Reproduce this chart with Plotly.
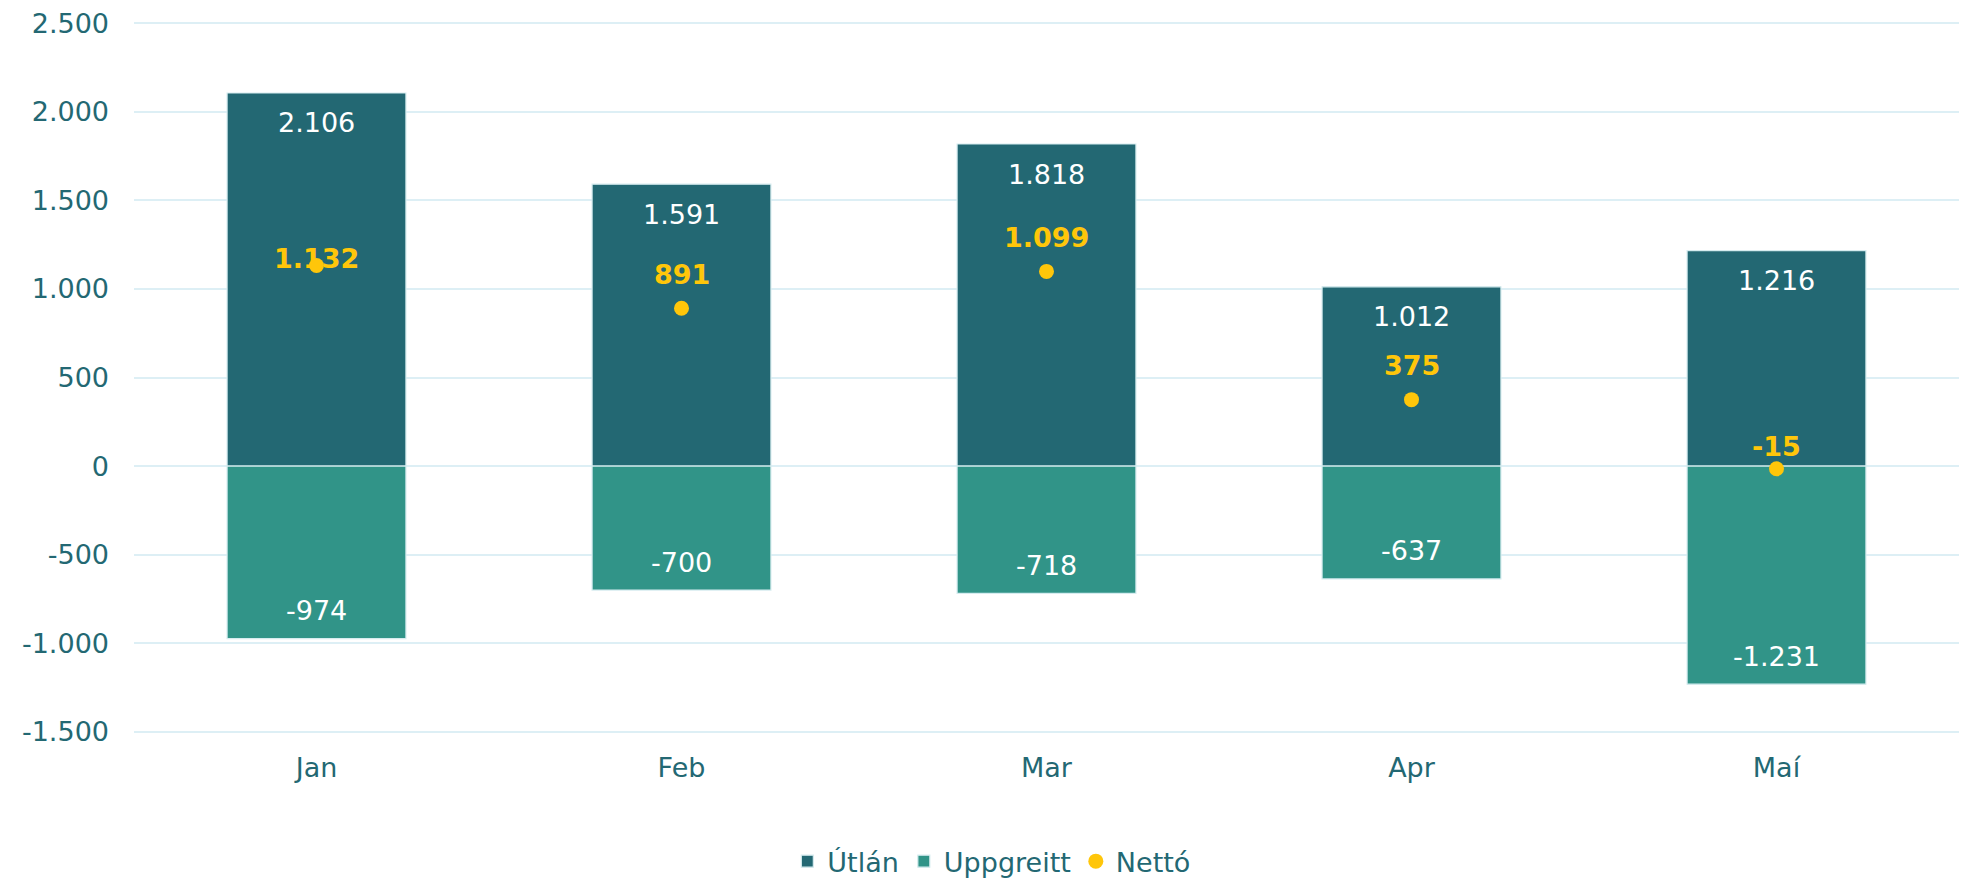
import plotly.graph_objects as go

months = ["Jan", "Feb", "Mar", "Apr", "Maí"]
utlan = [2106, 1591, 1818, 1012, 1216]
uppgreitt = [-974, -700, -718, -637, -1231]
netto = [1132, 891, 1099, 375, -15]
tick_vals = [-1500, -1000, -500, 0, 500, 1000, 1500, 2000, 2500]

def fmt(v):
    return f"{v:,}".replace(",", ".")

C_DARK = "#236873"
C_TEAL = "#319488"
C_YEL = "#FFC60A"
FONT = "DejaVu Sans"

fig = go.Figure()
fig.add_trace(go.Bar(
    x=months, y=utlan, name="Útlán",
    marker=dict(color=C_DARK, line=dict(color="#d6ecef", width=1.2)),
))
fig.add_trace(go.Bar(
    x=months, y=uppgreitt, name="Uppgreitt",
    marker=dict(color=C_TEAL, line=dict(color="#d6ecef", width=1.2)),
))
fig.add_trace(go.Scatter(
    x=months, y=netto, name="Nettó", mode="markers",
    marker=dict(color=C_YEL, size=15),
))

# data labels
for m, v in zip(months, utlan):
    fig.add_annotation(x=m, y=v, text=fmt(v), showarrow=False, yanchor="middle",
                       yshift=-30, font=dict(color="white", size=27, family=FONT))
for m, v in zip(months, uppgreitt):
    fig.add_annotation(x=m, y=v, text=fmt(v), showarrow=False, yanchor="middle",
                       yshift=28, font=dict(color="white", size=27, family=FONT))
netto_shift = [7, 34, 34, 34, 22]
for m, v, s in zip(months, netto, netto_shift):
    fig.add_annotation(x=m, y=v, text="<b>" + fmt(v) + "</b>", showarrow=False,
                       yanchor="middle", yshift=s,
                       font=dict(color=C_YEL, size=27, family=FONT))

fig.update_layout(
    width=1964, height=881,
    barmode="relative", bargap=0.51,
    plot_bgcolor="white", paper_bgcolor="white",
    margin=dict(l=134, r=5, t=20, b=146),
    font=dict(family=FONT, size=27, color=C_DARK),
    showlegend=True,
    legend=dict(orientation="h", xref="container", yref="container",
                x=0.505, xanchor="center", y=0.022, yanchor="middle",
                font=dict(size=27, color=C_DARK), traceorder="normal"),
)
fig.update_yaxes(
    range=[-1518, 2518], tickvals=tick_vals, ticktext=[fmt(v) for v in tick_vals],
    showgrid=True, gridcolor="#DDEFF5", gridwidth=2,
    zeroline=True, zerolinecolor="#DDEFF5", zerolinewidth=2,
    showline=False, ticklabelstandoff=24, automargin=False,
    tickfont=dict(size=27, color=C_DARK, family=FONT),
)
fig.update_xaxes(
    showgrid=False, showline=False, ticklabelstandoff=14, automargin=False,
    tickfont=dict(size=27, color=C_DARK, family=FONT),
)

fig.write_html(
    "out.html",
    config={"displayModeBar": False},
    post_script="document.body.style.margin='0';document.body.style.overflow='hidden';",
)
